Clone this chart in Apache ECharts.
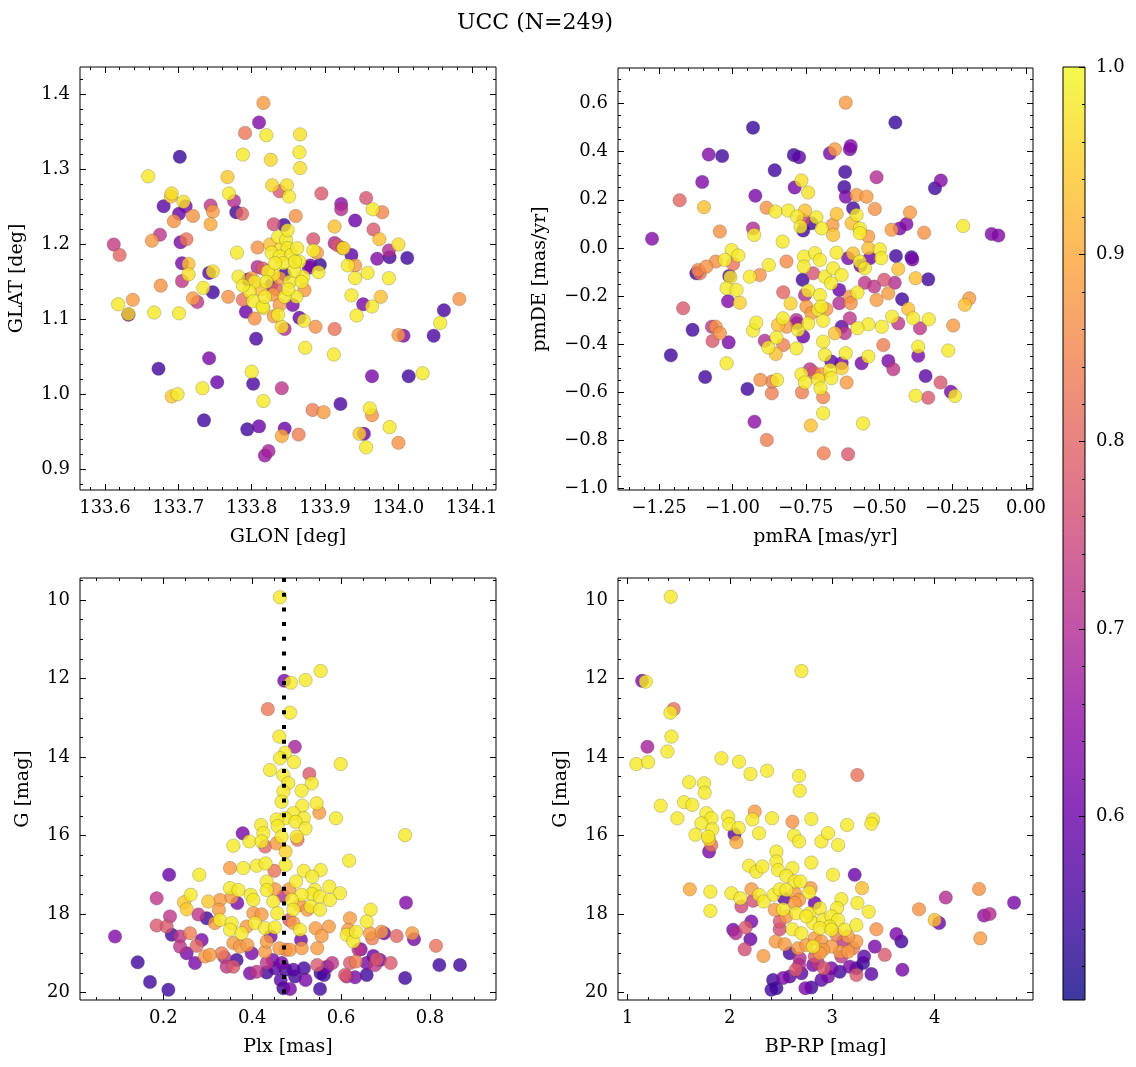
<!DOCTYPE html>
<html><head><meta charset="utf-8">
<script src="https://cdn.jsdelivr.net/npm/echarts@6/dist/echarts.min.js"></script>
<style>html,body{margin:0;padding:0;background:#fff}#c{width:1136px;height:1067px}</style>
</head><body><div id="c"></div><script>
// ---------- DATA ----------
const titleText = 'UCC (N=249)';
// Panel 1: sky positions
const glon = [133.816,133.810,133.791,133.820,133.866,133.865,133.702,133.788,133.826,133.866,
133.659,133.767,133.828,133.848,133.769,133.838,133.851,133.691,133.690,133.895,
133.956,133.707,133.710,133.680,133.776,133.744,133.747,133.779,133.787,133.922,
133.922,133.965,133.978,133.720,133.701,133.694,133.744,133.860,133.941,133.966,
133.830,133.844,133.913,133.675,133.664,133.612,133.620,133.703,133.711,133.884,
133.974,134.000,133.808,133.917,133.924,133.884,133.889,133.936,133.987,133.988,
133.971,134.012,133.780,133.925,133.705,133.714,133.714,133.742,133.747,133.705,
133.676,133.734,133.747,133.768,133.782,133.720,133.726,133.618,133.638,133.632,
133.632,133.667,133.701,133.931,133.941,133.941,133.958,133.987,133.891,133.880,
133.893,133.936,133.976,133.952,133.964,133.943,134.083,134.062,134.057,134.048,
134.000,134.007,133.913,133.887,133.871,133.865,133.912,133.873,134.014,134.033,
133.964,133.806,133.804,133.792,133.816,133.673,133.742,133.800,133.753,133.733,
133.802,133.841,133.691,133.699,133.816,133.735,133.794,133.810,133.845,133.841,
133.864,133.823,133.818,133.883,133.898,133.921,133.961,133.964,133.953,133.947,
133.956,133.988,134.000,133.836,133.847,133.849,133.827,133.838,133.854,133.865,
133.843,133.822,133.878,133.870,133.852,133.838,133.815,133.800,133.804,133.820,
133.795,133.827,133.872,133.861,133.845,133.829,133.797,133.802,133.815,133.856,
133.838,133.788,133.913,133.836,133.841,133.845,133.830,133.840,133.832,133.858,
133.845,133.825,133.862,133.812,133.850,133.868,133.830,133.788,133.808,133.859,133.834,133.818,133.849];
const glat = [1.389,1.363,1.349,1.346,1.347,1.323,1.317,1.320,1.313,1.302,
1.291,1.290,1.279,1.279,1.268,1.271,1.264,1.268,1.264,1.268,
1.262,1.257,1.251,1.251,1.258,1.252,1.244,1.243,1.241,1.254,
1.247,1.247,1.243,1.238,1.241,1.231,1.227,1.238,1.232,1.220,
1.227,1.226,1.224,1.213,1.205,1.200,1.186,1.203,1.207,1.207,
1.207,1.200,1.196,1.199,1.195,1.192,1.189,1.186,1.192,1.183,
1.181,1.182,1.189,1.195,1.175,1.174,1.160,1.162,1.164,1.151,
1.145,1.142,1.136,1.130,1.157,1.128,1.123,1.120,1.126,1.106,
1.107,1.109,1.108,1.172,1.172,1.155,1.162,1.155,1.163,1.172,
1.173,1.132,1.130,1.120,1.117,1.105,1.127,1.112,1.095,1.078,
1.079,1.078,1.087,1.090,1.098,1.102,1.053,1.062,1.024,1.028,
1.024,1.074,1.101,1.110,1.115,1.034,1.048,1.030,1.016,1.008,
1.014,1.008,0.997,1.000,0.991,0.965,0.953,0.957,0.954,0.944,
0.946,0.924,0.918,0.979,0.976,0.987,0.981,0.972,0.947,0.947,
0.929,0.956,0.935,1.210,1.206,1.195,1.189,1.184,1.186,1.177,
1.175,1.164,1.169,1.157,1.150,1.155,1.168,1.155,1.150,1.150,
1.153,1.146,1.139,1.130,1.130,1.133,1.137,1.124,1.117,1.119,
1.119,1.126,1.202,1.106,1.090,1.087,1.104,1.195,1.175,1.165,
1.160,1.200,1.195,1.140,1.140,1.150,1.160,1.145,1.170,1.177,1.140,1.130,1.219];
const pSky = [0.88,0.63,0.83,0.98,0.97,0.98,0.54,0.98,0.96,0.97,
0.98,0.94,0.96,0.97,0.98,0.78,0.98,0.97,0.93,0.78,
0.77,0.97,0.62,0.58,0.70,0.72,0.88,0.55,0.80,0.65,
0.70,0.98,0.85,0.87,0.60,0.87,0.90,0.87,0.60,0.78,
0.76,0.55,0.93,0.72,0.88,0.73,0.80,0.62,0.82,0.77,
0.93,0.97,0.87,0.78,0.82,0.98,0.88,0.58,0.70,0.56,
0.63,0.55,0.98,0.97,0.62,0.93,0.97,0.58,0.97,0.72,
0.87,0.98,0.55,0.87,0.98,0.88,0.72,0.98,0.88,0.55,
0.96,0.98,0.98,0.98,0.88,0.98,0.98,0.98,0.98,0.62,
0.54,0.98,0.93,0.62,0.98,0.98,0.87,0.56,0.98,0.56,
0.88,0.63,0.82,0.87,0.98,0.60,0.98,0.98,0.55,0.98,
0.62,0.56,0.87,0.60,0.98,0.55,0.62,0.98,0.60,0.98,
0.56,0.72,0.94,0.98,0.98,0.55,0.55,0.60,0.60,0.90,
0.84,0.68,0.66,0.84,0.88,0.56,0.98,0.87,0.60,0.95,
0.98,0.98,0.87,0.98,0.98,0.98,0.98,0.98,0.98,0.98,
0.98,0.98,0.62,0.98,0.98,0.88,0.78,0.88,0.98,0.98,
0.58,0.62,0.88,0.98,0.98,0.88,0.98,0.98,0.98,0.62,
0.88,0.82,0.70,0.98,0.97,0.70,0.88,0.97,0.98,0.98,
0.55,0.93,0.98,0.93,0.98,0.98,0.97,0.98,0.70,0.98,0.80,0.98,0.98];

// Panel 2: proper motions
const pmra = [-0.614,-0.930,-0.445,-1.081,-1.035,-0.791,-0.773,-0.668,-0.651,-0.597,
-0.600,-0.856,-0.616,-1.103,-0.509,-0.310,-0.290,-0.765,-0.788,-0.619,
-0.614,-0.742,-0.922,-1.180,-1.097,-0.577,-0.543,-0.884,-0.853,-0.810,
-0.753,-0.589,-0.515,-0.645,-0.577,-0.395,-0.780,-0.759,-0.714,-0.731,
-0.768,-0.696,-0.759,-0.659,-0.657,-0.594,-0.566,-0.566,-0.537,-0.458,
-0.430,-0.407,-0.347,-0.214,-0.117,-0.094,-1.274,-1.043,-0.930,-0.926,
-0.829,-1.003,-0.980,-1.026,-1.057,-1.089,-1.117,-1.111,-1.123,-0.998,
-1.011,-1.007,-1.020,-0.986,-0.941,-0.907,-0.876,-0.816,-1.015,-0.975,
-1.168,-1.136,-1.070,-1.057,-1.043,-1.068,-1.013,-1.210,-1.093,-1.020,
-0.930,-0.919,-0.890,-0.878,-0.852,-0.850,-0.845,-0.828,-0.827,-0.816,
-0.827,-0.802,-0.782,-0.780,-0.776,-0.782,-0.759,-0.761,-0.753,-0.742,
-0.756,-0.757,-0.725,-0.719,-0.702,-0.748,-0.731,-0.708,-0.702,-0.697,
-0.742,-0.691,-0.680,-0.685,-0.657,-0.664,-0.628,-0.645,-0.606,-0.589,
-0.566,-0.564,-0.537,-0.532,-0.498,-0.493,-0.443,-0.390,-0.387,-0.435,
-0.376,-0.333,-0.636,-0.636,-0.600,-0.597,-0.574,-0.549,-0.517,-0.483,
-0.447,-0.469,-0.509,-0.422,-0.401,-0.384,-0.331,-0.248,-0.208,-0.193,
-0.456,-0.435,-0.491,-0.537,-0.574,-0.600,-0.617,-0.651,-0.628,-0.691,
-0.685,-0.663,-0.628,-0.614,-0.668,-0.663,-0.628,-0.611,-0.560,-0.537,
-0.486,-0.469,-0.452,-0.367,-0.367,-0.361,-0.342,-0.291,-0.265,-0.256,
-0.242,-0.376,-0.333,-0.555,-0.606,-0.689,-0.691,-0.691,-0.733,-0.883,
-0.925,-0.949,-0.905,-0.866,-0.865,-0.848,-0.765,-0.763,-0.753,-0.736,
-0.722,-0.708,-0.697,-0.700,-0.549];
const pmde = [0.604,0.500,0.521,0.388,0.382,0.386,0.377,0.393,0.410,0.424,
0.410,0.323,0.316,0.274,0.294,0.248,0.280,0.280,0.251,0.253,
0.213,0.230,0.217,0.198,0.169,0.220,0.213,0.167,0.151,0.155,
0.155,0.165,0.162,0.141,0.137,0.147,0.130,0.116,0.127,0.102,
0.088,0.081,0.072,0.095,0.054,0.102,0.081,0.061,0.047,0.075,
0.081,0.099,0.063,0.091,0.058,0.051,0.038,0.068,0.081,0.054,
0.026,-0.009,-0.032,-0.050,-0.057,-0.078,-0.092,-0.106,-0.106,-0.067,
-0.117,-0.122,-0.168,-0.175,-0.120,-0.113,-0.071,-0.057,-0.222,-0.228,
-0.251,-0.341,-0.328,-0.328,-0.355,-0.387,-0.393,-0.447,-0.537,-0.480,
-0.344,-0.311,-0.386,-0.414,-0.441,-0.373,-0.321,-0.293,-0.404,-0.328,
-0.185,-0.231,-0.300,-0.314,-0.341,-0.418,-0.369,-0.133,-0.196,-0.178,
-0.036,-0.078,-0.106,-0.022,-0.050,-0.244,-0.272,-0.258,-0.196,-0.244,
-0.314,-0.303,-0.255,-0.120,-0.085,-0.147,-0.113,-0.020,-0.043,-0.023,
-0.057,-0.074,-0.002,-0.043,-0.006,-0.043,-0.034,-0.039,-0.048,-0.088,
-0.126,-0.131,-0.175,-0.230,-0.203,-0.230,-0.186,-0.145,-0.161,-0.133,
-0.145,-0.189,-0.217,-0.214,-0.254,-0.293,-0.297,-0.323,-0.237,-0.210,
-0.286,-0.314,-0.328,-0.318,-0.334,-0.293,-0.355,-0.355,-0.328,-0.390,
-0.445,-0.473,-0.480,-0.438,-0.508,-0.542,-0.501,-0.560,-0.480,-0.452,
-0.404,-0.470,-0.505,-0.449,-0.411,-0.334,-0.533,-0.560,-0.427,-0.598,
-0.616,-0.615,-0.623,-0.730,-0.858,-0.854,-0.688,-0.621,-0.739,-0.799,
-0.723,-0.587,-0.549,-0.605,-0.556,-0.549,-0.526,-0.601,-0.560,-0.505,
-0.519,-0.547,-0.526,-0.584,-0.085];
const pPM = [0.88,0.54,0.54,0.63,0.55,0.55,0.58,0.62,0.88,0.63,
0.62,0.55,0.55,0.63,0.70,0.55,0.63,0.97,0.62,0.55,
0.62,0.97,0.62,0.80,0.93,0.88,0.88,0.87,0.98,0.98,
0.93,0.55,0.87,0.93,0.98,0.88,0.98,0.76,0.98,0.55,
0.98,0.98,0.55,0.88,0.93,0.93,0.98,0.98,0.88,0.88,
0.62,0.63,0.87,0.98,0.63,0.63,0.63,0.87,0.70,0.98,
0.98,0.98,0.98,0.98,0.87,0.87,0.85,0.82,0.55,0.82,
0.58,0.98,0.98,0.98,0.98,0.87,0.98,0.86,0.63,0.95,
0.78,0.55,0.72,0.87,0.87,0.78,0.62,0.55,0.55,0.98,
0.98,0.98,0.70,0.98,0.93,0.98,0.93,0.98,0.84,0.88,
0.80,0.95,0.70,0.57,0.98,0.98,0.60,0.55,0.70,0.98,
0.98,0.98,0.77,0.98,0.98,0.88,0.88,0.98,0.98,0.98,
0.98,0.98,0.88,0.98,0.98,0.98,0.98,0.98,0.62,0.93,
0.98,0.62,0.93,0.60,0.98,0.98,0.55,0.55,0.62,0.93,
0.93,0.55,0.60,0.70,0.87,0.87,0.98,0.72,0.72,0.77,
0.70,0.88,0.88,0.55,0.93,0.98,0.98,0.88,0.93,0.88,
0.98,0.72,0.98,0.98,0.98,0.72,0.72,0.93,0.58,0.98,
0.98,0.58,0.62,0.98,0.98,0.98,0.95,0.88,0.62,0.98,
0.84,0.62,0.72,0.62,0.98,0.72,0.58,0.78,0.98,0.62,
0.98,0.98,0.78,0.98,0.78,0.84,0.98,0.85,0.93,0.84,
0.65,0.55,0.87,0.84,0.84,0.98,0.98,0.84,0.98,0.72,
0.78,0.98,0.88,0.98,0.98];

// Panel 3: parallax vs G
const plxRef = 0.474;
const plx = [0.4625,0.554,0.520,0.487,0.472,0.435,0.485,0.461,0.496,0.474,
0.4625,0.494,0.599,0.440,0.470,0.5285,0.481,0.534,0.511,0.470,
0.466,0.545,0.5125,0.4925,0.551,0.516,0.5885,0.474,0.455,0.4975,
0.520,0.4198,0.3785,0.457,0.466,0.425,0.455,0.500,0.502,0.3935,
0.421,0.429,0.3575,0.475,0.744,0.618,0.410,0.430,0.350,0.380,
0.475,0.516,0.554,0.450,0.535,0.281,0.213,0.4325,0.4985,0.350,
0.369,0.451,0.4835,0.541,0.5735,0.5975,0.534,0.511,0.3965,0.4325,
0.470,0.2615,0.185,0.2465,0.2525,0.301,0.3275,0.3535,0.3665,0.4025,
0.4475,0.4888,0.5525,0.575,0.746,0.5315,0.5525,0.5075,0.215,0.279,
0.325,0.4025,0.421,0.4565,0.4835,0.4925,0.524,0.620,0.6665,0.6575,
0.185,0.2075,0.0913,0.2975,0.316,0.3275,0.3538,0.350,0.3875,0.376,
0.406,0.4288,0.4513,0.4925,0.5075,0.5425,0.5725,0.5563,0.6125,0.6275,
0.616,0.6335,0.665,0.670,0.691,0.6965,0.725,0.760,0.764,0.8135,
0.219,0.2375,0.260,0.2375,0.2525,0.2863,0.275,0.2938,0.305,0.2713,
0.3313,0.3373,0.3575,0.3725,0.389,0.3988,0.4288,0.4325,0.4415,0.461,
0.476,0.485,0.5098,0.5113,0.5463,0.639,0.644,0.6725,0.680,0.620,
0.6335,0.6575,0.6763,0.6875,0.7115,0.821,0.8675,0.744,0.6575,0.6125,
0.6313,0.6088,0.1423,0.170,0.2113,0.3425,0.3575,0.365,0.395,0.410,
0.4325,0.446,0.451,0.4663,0.475,0.4925,0.4963,0.5163,0.520,0.5463,
0.5538,0.5613,0.5688,0.580,0.5525,0.470,0.485,0.464,0.4325];
const gPlx = [9.93,11.81,12.04,12.11,12.06,12.78,12.87,13.48,13.74,13.89,
14.03,14.13,14.18,14.33,14.46,14.43,14.67,14.67,14.86,14.88,
15.14,15.18,15.24,15.43,15.42,15.56,15.56,15.56,15.59,15.65,
15.82,15.73,15.94,15.76,16.03,15.94,16.20,16.03,16.11,16.15,
16.15,16.28,16.26,16.41,15.99,16.64,16.77,16.71,16.83,16.83,
16.75,16.90,16.88,16.90,17.05,17.00,17.00,17.17,17.17,17.34,
17.39,17.37,17.37,17.39,17.30,17.47,17.49,17.51,17.51,17.39,
17.54,17.51,17.60,17.70,17.88,17.68,17.64,17.57,17.72,17.64,
17.68,17.64,17.56,17.64,17.71,17.81,17.89,17.77,18.06,18.01,
17.89,17.98,18.01,17.98,18.15,17.89,17.89,18.11,17.89,18.19,
18.29,18.32,18.57,18.11,18.23,18.15,18.23,18.40,18.32,18.49,
18.23,18.36,18.34,18.23,18.40,18.36,18.32,18.56,18.53,18.70,
18.40,18.45,18.49,18.62,18.45,18.49,18.56,18.49,18.64,18.81,
18.53,18.57,18.49,18.83,19.00,18.66,18.81,19.08,19.04,19.25,
19.00,19.10,18.74,18.83,18.79,19.00,18.96,18.70,18.57,18.87,
18.91,18.91,18.66,18.87,18.87,18.91,18.90,19.07,19.15,19.25,
19.21,19.25,19.30,19.17,19.25,19.30,19.30,19.63,19.55,19.59,
19.61,19.55,19.23,19.73,19.93,19.34,19.34,19.17,19.51,19.47,
19.25,19.17,19.38,19.25,19.42,19.42,19.59,19.38,19.68,19.30,
19.51,19.55,19.34,19.25,19.91,19.89,19.91,19.68,19.49];
const pPlx = [0.98,0.98,0.98,0.98,0.62,0.83,0.98,0.98,0.68,0.98,
0.98,0.98,0.98,0.98,0.98,0.78,0.98,0.98,0.98,0.98,
0.98,0.98,0.98,0.98,0.88,0.98,0.98,0.98,0.98,0.98,
0.98,0.98,0.62,0.98,0.98,0.98,0.88,0.98,0.82,0.98,
0.98,0.80,0.98,0.95,0.98,0.98,0.98,0.98,0.88,0.98,
0.98,0.98,0.98,0.82,0.98,0.98,0.60,0.98,0.98,0.98,
0.98,0.88,0.88,0.98,0.98,0.98,0.98,0.98,0.98,0.98,
0.70,0.98,0.72,0.94,0.94,0.94,0.88,0.88,0.62,0.98,
0.98,0.98,0.98,0.98,0.63,0.98,0.98,0.88,0.72,0.72,
0.88,0.88,0.88,0.98,0.78,0.98,0.88,0.88,0.98,0.98,
0.78,0.78,0.63,0.55,0.88,0.98,0.98,0.98,0.88,0.98,
0.98,0.98,0.98,0.88,0.98,0.88,0.88,0.88,0.98,0.98,
0.88,0.98,0.88,0.84,0.88,0.60,0.80,0.88,0.62,0.82,
0.55,0.72,0.84,0.72,0.62,0.62,0.80,0.88,0.88,0.62,
0.84,0.72,0.88,0.88,0.88,0.62,0.88,0.88,0.62,0.88,
0.84,0.88,0.62,0.88,0.88,0.72,0.63,0.60,0.78,0.78,
0.84,0.62,0.72,0.62,0.78,0.55,0.55,0.55,0.55,0.70,
0.62,0.78,0.55,0.55,0.55,0.72,0.78,0.55,0.62,0.72,
0.72,0.62,0.58,0.62,0.55,0.58,0.55,0.55,0.62,0.78,
0.55,0.55,0.62,0.72,0.55,0.55,0.62,0.58,0.55];

// Panel 4: colour-magnitude diagram
const bprp = [1.423,2.699,1.143,1.179,1.452,1.420,1.430,1.195,1.390,1.088,
1.202,1.918,2.090,2.201,2.364,2.676,2.682,3.245,1.602,1.748,
1.754,1.553,1.634,1.325,1.488,1.771,1.820,1.983,1.993,2.243,
2.220,2.412,2.611,2.796,3.398,3.382,3.145,1.722,1.829,1.664,
1.788,1.797,1.820,1.797,2.045,2.087,2.285,2.064,2.627,2.676,
2.894,2.959,3.057,2.455,2.455,2.796,2.188,2.259,2.318,2.470,
2.611,3.219,3.007,2.552,2.634,2.689,1.609,1.810,2.015,2.103,
2.211,2.285,2.331,2.429,2.487,2.529,2.552,2.634,2.676,2.790,
2.774,2.829,3.291,3.089,3.245,3.356,1.810,2.113,2.227,2.438,
2.520,2.650,2.634,2.780,2.878,3.047,2.813,2.911,2.992,3.057,
3.122,3.236,2.975,2.878,2.611,2.552,2.487,2.487,2.032,2.058,
2.210,2.155,2.201,2.145,2.448,2.536,2.328,2.585,2.666,2.747,
2.829,2.894,2.682,2.676,2.643,2.699,2.585,2.520,2.422,2.455,
2.406,2.738,2.796,2.813,2.861,2.894,2.959,2.917,2.992,3.073,
3.171,3.236,3.236,3.311,3.301,3.073,3.155,3.203,3.236,3.106,
2.992,2.910,3.431,3.415,3.513,3.626,3.675,3.685,3.382,3.847,
4.000,4.043,4.108,4.433,4.446,4.482,4.537,4.775,2.747,2.699,
2.813,2.878,2.992,3.040,3.155,3.089,2.829];
const gCmd = [9.92,11.81,12.06,12.08,12.78,12.87,13.48,13.74,13.86,14.18,
14.13,14.03,14.12,14.43,14.35,14.48,14.86,14.46,14.64,14.67,
14.91,15.15,15.22,15.24,15.56,15.43,15.56,15.52,15.71,15.39,
15.59,15.56,15.65,15.58,15.59,15.70,15.73,15.69,15.84,15.98,
16.03,16.10,16.24,16.41,15.97,15.81,15.94,16.17,16.00,16.15,
16.15,15.94,16.24,16.41,16.66,16.69,16.77,16.92,16.79,16.88,
16.83,17.00,17.00,17.03,17.17,17.17,17.37,17.43,17.47,17.60,
17.37,17.51,17.68,17.51,17.37,17.60,17.39,17.47,17.64,17.34,
17.45,17.72,17.34,17.62,17.72,17.94,17.92,17.81,17.66,17.89,
17.88,17.98,17.72,17.98,17.85,17.85,18.23,18.15,18.06,18.15,
18.40,18.28,18.32,18.36,18.39,18.06,18.19,18.39,18.40,18.49,
18.19,18.34,18.64,18.90,18.70,18.77,19.07,19.00,18.87,18.79,
18.62,18.70,19.13,19.30,19.42,19.51,19.59,19.63,19.68,19.89,
19.93,19.89,19.87,19.30,19.25,19.68,19.59,19.38,19.38,19.47,
19.34,19.55,19.38,19.08,19.25,18.96,18.96,18.87,18.70,18.70,
18.83,18.91,18.39,18.83,19.04,18.51,18.70,19.42,19.53,17.88,
18.15,18.23,17.58,17.36,18.62,18.04,18.00,17.71,18.06,18.49,
18.83,19.00,18.40,18.53,18.57,19.08,19.08];
const pCmd = [0.98,0.98,0.62,0.98,0.82,0.98,0.98,0.68,0.98,0.98,
0.98,0.98,0.98,0.98,0.98,0.98,0.98,0.82,0.98,0.98,
0.98,0.98,0.98,0.98,0.98,0.98,0.98,0.98,0.98,0.88,
0.98,0.98,0.87,0.98,0.98,0.98,0.98,0.98,0.98,0.98,
0.98,0.95,0.82,0.62,0.58,0.98,0.98,0.90,0.98,0.98,
0.98,0.98,0.98,0.98,0.98,0.98,0.98,0.98,0.98,0.98,
0.98,0.60,0.98,0.98,0.98,0.98,0.90,0.98,0.98,0.98,
0.88,0.98,0.98,0.98,0.98,0.58,0.98,0.88,0.88,0.88,
0.98,0.60,0.93,0.98,0.98,0.98,0.98,0.75,0.76,0.88,
0.98,0.98,0.88,0.98,0.98,0.98,0.98,0.98,0.98,0.98,
0.98,0.98,0.98,0.98,0.98,0.88,0.78,0.76,0.62,0.70,
0.62,0.78,0.60,0.76,0.88,0.88,0.88,0.55,0.88,0.88,
0.88,0.88,0.70,0.70,0.78,0.58,0.58,0.62,0.55,0.55,
0.55,0.62,0.55,0.62,0.72,0.58,0.62,0.78,0.62,0.55,
0.62,0.78,0.55,0.58,0.55,0.88,0.88,0.84,0.88,0.72,
0.88,0.88,0.87,0.62,0.78,0.62,0.55,0.62,0.58,0.87,
0.93,0.60,0.70,0.87,0.88,0.65,0.70,0.62,0.98,0.98,
0.98,0.88,0.98,0.84,0.88,0.72,0.78];

// Colour scale range and ticks
const probMin = 0.502, probMax = 1.0;
const cbTicks = [0.6, 0.7, 0.8, 0.9, 1.0];
const cbLabels = ['0.6', '0.7', '0.8', '0.9', '1.0'];

// Tick labels
const glonTicks = [133.6, 133.7, 133.8, 133.9, 134.0, 134.1];
const glonLabels = ['133.6', '133.7', '133.8', '133.9', '134.0', '134.1'];
const glatTicks = [0.9, 1.0, 1.1, 1.2, 1.3, 1.4];
const glatLabels = ['0.9', '1.0', '1.1', '1.2', '1.3', '1.4'];
const pmraTicks = [-1.25, -1.0, -0.75, -0.5, -0.25, 0.0];
const pmraLabels = ['\u22121.25', '\u22121.00', '\u22120.75', '\u22120.50', '\u22120.25', '0.00'];
const pmdeTicks = [-1.0, -0.8, -0.6, -0.4, -0.2, 0.0, 0.2, 0.4, 0.6];
const pmdeLabels = ['\u22121.0', '\u22120.8', '\u22120.6', '\u22120.4', '\u22120.2', '0.0', '0.2', '0.4', '0.6'];
const plxTicks = [0.2, 0.4, 0.6, 0.8];
const plxLabels = ['0.2', '0.4', '0.6', '0.8'];
const gTicks = [10, 12, 14, 16, 18, 20];
const gLabels = ['10', '12', '14', '16', '18', '20'];
const bprpTicks = [1, 2, 3, 4];
const bprpLabels = ['1', '2', '3', '4'];

// ---------- CHART ----------
[[glon, glat, pSky], [pmra, pmde, pPM], [plx, gPlx, pPlx], [bprp, gCmd, pCmd]].forEach((a, k) => {
  if (a[0].length !== a[1].length || a[0].length !== a[2].length) console.error('length mismatch panel', k, a.map(x => x.length));
});

const FONT = 'DejaVu Serif';
const plasma = ['#0d0887', '#41049d', '#6a00a8', '#8f0da4', '#b12a90', '#cc4778', '#e16462', '#f2844b', '#fca636', '#fcce25', '#f0f921'];
function withAlpha(hex, a) {
  const r = parseInt(hex.slice(1, 3), 16), g = parseInt(hex.slice(3, 5), 16), b = parseInt(hex.slice(5, 7), 16);
  return 'rgba(' + r + ',' + g + ',' + b + ',' + a + ')';
}
function steps(lo, hi, step, exclude) {
  const out = [];
  const n0 = Math.ceil(lo / step - 1e-9), n1 = Math.floor(hi / step + 1e-9);
  for (let n = n0; n <= n1; n++) {
    const v = +(n * step).toFixed(6);
    if (!exclude.some(e => Math.abs(e - v) < 1e-9)) out.push(v);
  }
  return out;
}
function fmtFrom(ticks, labels) {
  return v => { for (let i = 0; i < ticks.length; i++) if (Math.abs(ticks[i] - v) < 1e-9) return labels[i]; return ''; };
}
const tickLine = { color: '#000', width: 1 };
const noLine = { show: false, onZero: false };
function axisGroup(dim, gi, c) {
  const pos = dim === 'x' ? ['bottom', 'top'] : ['left', 'right'];
  const minors = steps(c.min, c.max, c.minorStep, c.majors);
  const base = { type: 'value', gridIndex: gi, min: c.min, max: c.max, inverse: !!c.inverse,
    axisLine: noLine, splitLine: { show: false } };
  return [
    Object.assign({}, base, { position: pos[0], name: c.name, nameLocation: 'middle', nameGap: c.nameGap,
      nameTextStyle: { fontFamily: FONT, fontSize: 19, color: '#000' },
      axisTick: { show: true, inside: true, length: 6, customValues: c.majors, lineStyle: tickLine },
      axisLabel: { show: true, customValues: c.majors, formatter: fmtFrom(c.majors, c.labels), margin: dim === 'x' ? 9 : 10,
        fontFamily: FONT, fontSize: 18, color: '#000' } }),
    Object.assign({}, base, { position: pos[0], axisTick: { show: true, inside: true, length: 3, customValues: minors, lineStyle: tickLine }, axisLabel: { show: false } }),
    Object.assign({}, base, { position: pos[1], axisTick: { show: true, inside: true, length: 6, customValues: c.majors, lineStyle: tickLine }, axisLabel: { show: false } }),
    Object.assign({}, base, { position: pos[1], axisTick: { show: true, inside: true, length: 3, customValues: minors, lineStyle: tickLine }, axisLabel: { show: false } })
  ];
}
function scatter(xs, ys, ps, gi) {
  const idx = xs.map((_, i) => i).sort((a, b) => ps[a] - ps[b]);
  return { type: 'scatter', xAxisIndex: gi * 4, yAxisIndex: gi * 4,
    data: idx.map(i => [xs[i], ys[i], ps[i]]), symbolSize: 13.5,
    itemStyle: { opacity: 0.8, borderColor: 'rgba(60,60,60,0.6)', borderWidth: 0.5 },
    emphasis: { disabled: true }, silent: true };
}

const grids = [
  { left: 80, top: 67, width: 416, height: 423 },
  { left: 618, top: 68, width: 415, height: 422 },
  { left: 80, top: 578, width: 416, height: 422 },
  { left: 618, top: 578, width: 415, height: 422 }
].map(g => Object.assign(g, { show: true, borderColor: '#000', borderWidth: 1, backgroundColor: 'transparent', containLabel: false }));
grids.push({ left: 1063, top: 67, width: 22, height: 933, show: true, borderColor: '#000', borderWidth: 1,
  backgroundColor: new echarts.graphic.LinearGradient(0, 1, 0, 0, plasma.map((c, i) => ({ offset: i / (plasma.length - 1), color: withAlpha(c, 0.8) }))) });

const xAxes = [].concat(
  axisGroup('x', 0, { min: 133.566, max: 134.133, majors: glonTicks, labels: glonLabels, minorStep: 0.02, name: 'GLON [deg]', nameGap: 38 }),
  axisGroup('x', 1, { min: -1.390, max: 0.024, majors: pmraTicks, labels: pmraLabels, minorStep: 0.05, name: 'pmRA [mas/yr]', nameGap: 38 }),
  axisGroup('x', 2, { min: 0.0125, max: 0.9485, majors: plxTicks, labels: plxLabels, minorStep: 0.05, name: 'Plx [mas]', nameGap: 38 }),
  axisGroup('x', 3, { min: 0.908, max: 4.96, majors: bprpTicks, labels: bprpLabels, minorStep: 0.2, name: 'BP-RP [mag]', nameGap: 38 }),
  [{ type: 'value', gridIndex: 4, min: 0, max: 1, show: false, axisLine: noLine }]
);
const cbMinors = steps(probMin, probMax, 0.02, cbTicks);
const yAxes = [].concat(
  axisGroup('y', 0, { min: 0.872, max: 1.437, majors: glatTicks, labels: glatLabels, minorStep: 0.02, name: 'GLAT [deg]', nameGap: 53 }),
  axisGroup('y', 1, { min: -1.007, max: 0.748, majors: pmdeTicks, labels: pmdeLabels, minorStep: 0.05, name: 'pmDE [mas/yr]', nameGap: 68 }),
  axisGroup('y', 2, { min: 9.44, max: 20.19, inverse: true, majors: gTicks, labels: gLabels, minorStep: 0.5, name: 'G [mag]', nameGap: 47 }),
  axisGroup('y', 3, { min: 9.44, max: 20.19, inverse: true, majors: gTicks, labels: gLabels, minorStep: 0.5, name: 'G [mag]', nameGap: 47 }),
  [
    { type: 'value', gridIndex: 4, position: 'right', min: probMin, max: probMax, axisLine: noLine, splitLine: { show: false },
      axisTick: { show: true, inside: true, length: 6, customValues: cbTicks, lineStyle: tickLine },
      axisLabel: { show: true, customValues: cbTicks, formatter: fmtFrom(cbTicks, cbLabels), margin: 11, fontFamily: FONT, fontSize: 18, color: '#000' } },
    { type: 'value', gridIndex: 4, position: 'right', min: probMin, max: probMax, axisLine: noLine, splitLine: { show: false },
      axisTick: { show: true, inside: true, length: 3, customValues: cbMinors, lineStyle: tickLine }, axisLabel: { show: false } }
  ]
);

const s3 = scatter(plx, gPlx, pPlx, 2);
s3.markLine = { silent: true, symbol: 'none', z: 10, animation: false,
  label: { show: false }, emphasis: { disabled: true },
  lineStyle: { color: '#000', width: 4, type: [4, 10.7], cap: 'butt', opacity: 1 },
  data: [{ xAxis: plxRef }] };

const chart = echarts.init(document.getElementById('c'), null, { renderer: 'canvas' });
chart.setOption({
  backgroundColor: '#fff',
  animation: false,
  textStyle: { fontFamily: FONT },
  title: { text: titleText, left: 452, top: 7, textStyle: { fontFamily: FONT, fontSize: 22, fontWeight: 'normal', color: '#000' } },
  grid: grids,
  xAxis: xAxes,
  yAxis: yAxes,
  visualMap: { type: 'continuous', show: false, min: probMin, max: probMax, dimension: 2, seriesIndex: [0, 1, 2, 3], inRange: { color: plasma } },
  series: [scatter(glon, glat, pSky, 0), scatter(pmra, pmde, pPM, 1), s3, scatter(bprp, gCmd, pCmd, 3)]
});
</script></body></html>
